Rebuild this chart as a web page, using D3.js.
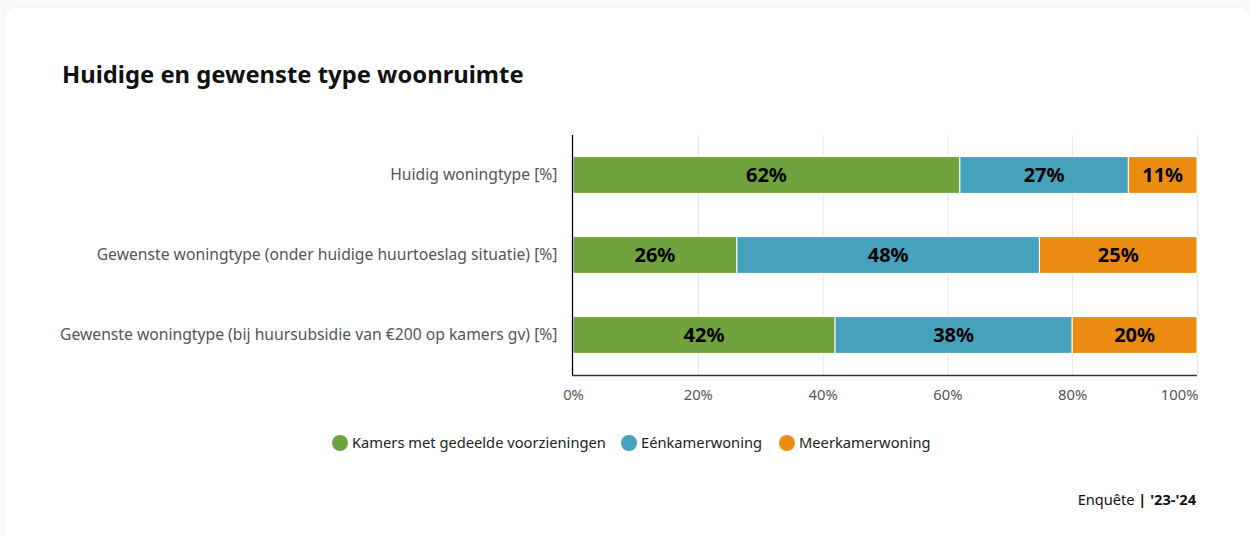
<!DOCTYPE html>
<html>
<head>
<meta charset="utf-8">
<script src="https://cdn.jsdelivr.net/npm/d3@7"></script>
<style>
  html, body { margin: 0; padding: 0; background: #fafafa; }
  body { width: 1250px; height: 535px; overflow: hidden; font-family: "Source Sans Pro", "Noto Sans", sans-serif; }
  .card { position: absolute; left: 5px; top: 8px; width: 1245px; height: 535px; background: #fff; border-radius: 10px; box-shadow: 0 0 4px rgba(0,0,0,0.05); }
  svg { position: absolute; left: 0; top: 0; }
</style>
</head>
<body>
<div class="card"></div>
<svg id="chart" width="1250" height="535"></svg>
<script>
const categories = [
  "Huidig woningtype [%]",
  "Gewenste woningtype (onder huidige huurtoeslag situatie) [%]",
  "Gewenste woningtype (bij huursubsidie van €200 op kamers gv) [%]"
];
const seriesNames = ["Kamers met gedeelde voorzieningen", "Eénkamerwoning", "Meerkamerwoning"];
const seriesColors = ["#70a33e", "#46a1bc", "#ec8b12"];
const kamersValues = [62, 26, 42];
const eenkamerValues = [27, 48, 38];
const meerkamerValues = [11, 25, 20];
const xTicks = [0, 20, 40, 60, 80, 100];

const FONT = '"Source Sans Pro", "Noto Sans", sans-serif';
const svg = d3.select("#chart").attr("font-family", FONT);
const margin = { left: 573, right: 1197, top: 135, bottom: 375 };

// Rows normalised to 100% (percent stacking)
const rows = categories.map((c, i) => {
  const vals = [kamersValues[i], eenkamerValues[i], meerkamerValues[i]];
  const total = d3.sum(vals);
  let acc = 0;
  return { cat: c, segs: vals.map((v, k) => {
    const s = { key: k, value: v, x0: acc / total * 100, x1: (acc + v) / total * 100 };
    acc += v;
    return s;
  }) };
});

const x = d3.scaleLinear().domain([0, 100]).range([margin.left, margin.right]);
const y = d3.scaleBand().domain(categories).range([margin.top, margin.bottom]).paddingInner(0.54).paddingOuter(0.27);

// Title
svg.append("text").attr("x", 62).attr("y", 83)
  .attr("font-size", 23.8).attr("font-weight", 700).attr("fill", "#111")
  .text("Huidige en gewenste type woonruimte");

// Gridlines
svg.append("g").selectAll("line").data(xTicks.slice(1)).join("line")
  .attr("x1", d => x(d) + 0.5).attr("x2", d => x(d) + 0.5)
  .attr("y1", margin.top).attr("y2", margin.bottom)
  .attr("stroke", "#e6e6e6").attr("stroke-width", 1);

// Bars
const rowG = svg.append("g").selectAll("g").data(rows).join("g");
rowG.selectAll("rect").data(d => d.segs.map(s => ({ ...s, cat: d.cat }))).join("rect")
  .attr("x", d => x(d.x0)).attr("width", d => x(d.x1) - x(d.x0))
  .attr("y", d => y(d.cat)).attr("height", y.bandwidth())
  .attr("fill", d => seriesColors[d.key])
  .attr("stroke", "#fff").attr("stroke-width", 1);

rowG.selectAll("text").data(d => d.segs.map(s => ({ ...s, cat: d.cat }))).join("text")
  .attr("x", d => (x(d.x0) + x(d.x1)) / 2)
  .attr("y", d => y(d.cat) + y.bandwidth() / 2)
  .attr("dy", "0.36em").attr("text-anchor", "middle")
  .attr("font-size", 20).attr("font-weight", 700).attr("fill", "#000")
  .text(d => d.value + "%");

// Y axis
const yAxis = svg.append("g").attr("transform", `translate(${margin.left - 0.5},0)`)
  .call(d3.axisLeft(y).tickSize(0).tickPadding(15))
  .attr("font-family", FONT);
yAxis.select(".domain").attr("stroke", "#000").attr("stroke-width", 1.3)
  .attr("d", `M0,${margin.top}V${margin.bottom}`);
yAxis.selectAll("text").attr("font-size", 15.7).attr("fill", "#555");

// X axis
const xAxis = svg.append("g").attr("transform", `translate(0,${margin.bottom + 0.5})`)
  .call(d3.axisBottom(x).tickValues(xTicks).tickFormat(d => d + "%").tickSize(0).tickPadding(14))
  .attr("font-family", FONT);
xAxis.select(".domain").attr("stroke", "#333").attr("stroke-width", 1.3)
  .attr("d", `M${margin.left - 1},0H${margin.right}`);
xAxis.selectAll("text").attr("font-size", 14.8).attr("fill", "#555")
  .filter(d => d === 100).attr("text-anchor", "end").attr("x", 1);

// Legend
const legendX = [340, 629, 787];
const lg = svg.append("g").selectAll("g").data(seriesNames).join("g")
  .attr("transform", (d, i) => `translate(${legendX[i]},443)`);
lg.append("circle").attr("r", 8).attr("fill", (d, i) => seriesColors[i]);
lg.append("text").attr("x", 12).attr("dy", "0.35em")
  .attr("font-size", 14.7).attr("fill", "#222").text(d => d);

// Source note
const note = svg.append("text").attr("x", 1196).attr("y", 505)
  .attr("text-anchor", "end").attr("font-size", 14.6).attr("fill", "#111");
note.append("tspan").text("Enquête ");
note.append("tspan").attr("font-weight", 700).text("| '23-'24");
</script>
</body>
</html>
